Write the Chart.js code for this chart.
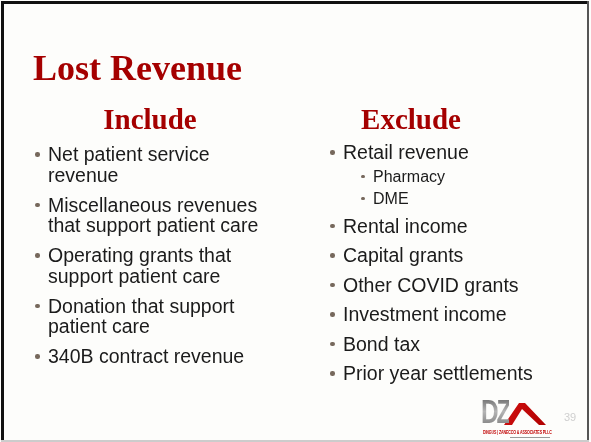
<!DOCTYPE html>
<html>
<head>
<meta charset="utf-8">
<script src="https://cdn.jsdelivr.net/npm/chart.js@4.4.1/dist/chart.umd.min.js"></script>
<style>
  html, body { margin: 0; padding: 0; background: #fdfdfb; }
  #slide { position: relative; width: 591px; height: 442px; overflow: hidden; }
  #frame { position: absolute; left: 0; top: 0; }
  .txt { position: absolute; white-space: pre; }
  #title { left: 33px; top: 50px; font: bold 36px/36px "Liberation Serif", "Times New Roman", serif; color: #a50000; }
  .head { top: 105px; width: 200px; text-align: center; font: bold 29px/29px "Liberation Serif", "Times New Roman", serif; color: #a50000; }
  ul { position: absolute; margin: 0; padding: 0; list-style: none; color: #1b1b1b;
       font: 19.5px/20.5px "Liberation Sans", Arial, sans-serif; }
  li { position: relative; white-space: pre-line; margin-bottom: 9.5px; }
  li::before { content: ""; position: absolute; left: -13px; top: 8px; width: 4.5px; height: 4.5px;
               border-radius: 50%; background: #76685c; }
  #exclude li { margin-bottom: 9px; }
  #exclude > li:first-child { margin-bottom: 6px; }
  #exclude ul.sub { position: static; font: 16px/22px "Liberation Sans", Arial, sans-serif; margin: 3px 0 0 30px; }
  #exclude ul.sub li { margin-bottom: 0; }
  #exclude ul.sub li::before { left: -12px; top: 9px; width: 3.5px; height: 3.5px; }
  #pageNo { left: 564px; top: 410px; font: 11px/14px "Liberation Sans", Arial, sans-serif; color: #cfcfcf; }
  #logoDZ { left: 481px; top: 395px; font: bold 33px/33px "Liberation Sans", Arial, sans-serif; letter-spacing: -3px;
            transform: scaleX(0.74); transform-origin: 0 0; color: #9c9c9c;
            background: linear-gradient(#5f5f5f, #b5b5b5 50%, #7a7a7a); -webkit-background-clip: text; background-clip: text; -webkit-text-fill-color: transparent; }
  #logoName { left: 483px; top: 429px; font: bold 6px/7px "Liberation Sans", Arial, sans-serif; color: #c00000; letter-spacing: -0.2px;
              transform: scaleX(0.6); transform-origin: 0 0; }
</style>
</head>
<body>
<div id="slide">
  <canvas id="frame" width="591" height="442"></canvas>
  <div id="title" class="txt"></div>
  <div id="headInclude" class="txt head" style="left:50px"></div>
  <div id="headExclude" class="txt head" style="left:311px"></div>
  <ul id="include" style="left:48px; top:144px; width:260px"></ul>
  <ul id="exclude" style="left:343px; top:142px; width:240px"></ul>
  <div id="logoDZ" class="txt">DZ</div>
  <div id="logoName" class="txt">DINGUS | ZANECCO &amp; ASSOCIATES PLLC</div>
  <div id="pageNo" class="txt"></div>
</div>
<script>
// isi slide
const slideTitle = 'Lost Revenue';
const includeHeading = 'Include';
const excludeHeading = 'Exclude';
const includeItems = [
    'Net patient service\nrevenue',
    'Miscellaneous revenues\nthat support patient care',
    'Operating grants that\nsupport patient care',
    'Donation that support\npatient care',
    '340B contract revenue'
];
const excludeItems = [
    'Retail revenue',
    'Rental income',
    'Capital grants',
    'Other COVID grants',
    'Investment income',
    'Bond tax',
    'Prior year settlements'
];
const retailSubItems = ['Pharmacy', 'DME'];
const pageNumber = '39';

document.getElementById('title').textContent = slideTitle;
document.getElementById('headInclude').textContent = includeHeading;
document.getElementById('headExclude').textContent = excludeHeading;
document.getElementById('pageNo').textContent = pageNumber;

function fillList(el, items) {
    items.forEach(text => {
        const li = document.createElement('li');
        li.textContent = text;
        el.appendChild(li);
    });
    return el;
}

fillList(document.getElementById('include'), includeItems);
const excludeList = fillList(document.getElementById('exclude'), excludeItems);

// sub-bullet di bawah Retail revenue
const sub = fillList(document.createElement('ul'), retailSubItems);
sub.className = 'sub';
excludeList.children[0].appendChild(sub);

// bingkai slide dan logo digambar lewat plugin Chart.js
const slideFrame = {
    id: 'slideFrame',
    beforeDraw(chart) {
        const c = chart.ctx;
        c.save();
        c.fillStyle = '#fdfdfb';
        c.fillRect(0, 0, 591, 442);
        c.fillStyle = '#111111';
        c.fillRect(1, 1, 3, 441);
        c.fillRect(1, 1, 588, 3);
        c.fillStyle = '#555555';
        c.fillRect(587, 1, 2, 441);
        c.fillStyle = '#cccccc';
        c.fillRect(1, 440, 588, 2);

        // huruf A merah pada logo
        const g = c.createLinearGradient(505, 403, 546, 425);
        g.addColorStop(0, '#d01010');
        g.addColorStop(1, '#b00000');
        c.fillStyle = g;
        c.beginPath();
        c.moveTo(504, 425);
        c.lineTo(519, 403);
        c.lineTo(525, 403);
        c.lineTo(546, 425);
        c.lineTo(539, 425);
        c.lineTo(522, 409);
        c.lineTo(512, 425);
        c.closePath();
        c.fill();
        c.fillStyle = '#9a9a9a';
        c.fillRect(510, 437, 40, 1);
        c.restore();
    }
};

const ctx = document.getElementById('frame').getContext('2d');
new Chart(ctx, {
    type: 'scatter',
    data: { datasets: [] },
    options: {
        responsive: false,
        animation: false,
        events: [],
        plugins: {
            legend: { display: false },
            tooltip: { enabled: false }
        },
        scales: {
            x: { display: false },
            y: { display: false }
        }
    },
    plugins: [slideFrame]
});
</script>
</body>
</html>
